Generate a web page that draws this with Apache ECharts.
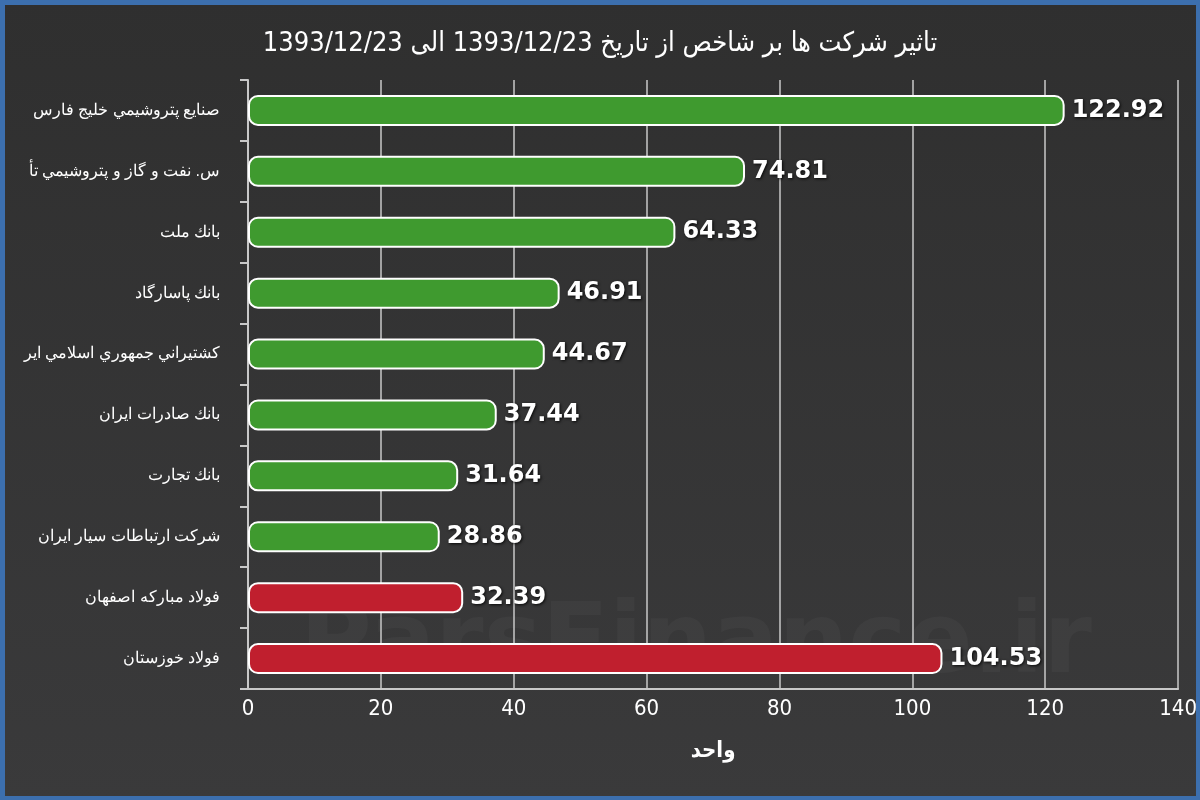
<!DOCTYPE html>
<html>
<head>
<meta charset="utf-8">
<script src="https://cdn.jsdelivr.net/npm/echarts@6/dist/echarts.min.js"></script>
<style>
html,body{margin:0;padding:0;background:#3c6fae;}
#c{width:1200px;height:800px;}
</style>
</head>
<body>
<div id="c"></div>
<script>
const categories = [
  "صنايع پتروشيمي خليج فارس",
  "س. نفت و گاز و پتروشيمي تأ",
  "بانك ملت",
  "بانك پاسارگاد",
  "كشتيراني جمهوري اسلامي اير",
  "بانك صادرات ايران",
  "بانك تجارت",
  "شركت ارتباطات سيار ايران",
  "فولاد مباركه اصفهان",
  "فولاد خوزستان"
];
const values = [122.92, 74.81, 64.33, 46.91, 44.67, 37.44, 31.64, 28.86, 32.39, 104.53];
const positive = [true, true, true, true, true, true, true, true, false, false];
const xTicks = [0, 20, 40, 60, 80, 100, 120, 140];
const titleText = "تاثير شركت ها بر شاخص از تاريخ 1393/12/23 الى 1393/12/23";
const xAxisName = "واحد";

const GREEN = "#3f9a2f", RED = "#c01f2e";
const chart = echarts.init(document.getElementById('c'), null, {renderer: 'canvas'});
chart.setOption({
  backgroundColor: {
    type: 'linear', x: 0, y: 0, x2: 0, y2: 1,
    colorStops: [{offset: 0, color: '#2f2f2f'}, {offset: 1, color: '#3a3a3b'}]
  },
  animation: false,
  graphic: [
    {type: 'text', left: 300, top: 598, silent: true, z: 0,
     style: {text: 'ParsFinance.ir', font: 'bold 98px "DejaVu Sans"', fill: 'rgba(255,255,255,0.03)'}},
    {type: 'rect', left: 0, top: 0, silent: true, z: 100,
     shape: {x: 2, y: 2, width: 1196, height: 796},
     style: {fill: 'none', stroke: '#3c6fae', lineWidth: 5}}
  ],
  title: {
    text: titleText, left: 595, top: 25, textAlign: 'center',
    textStyle: {color: '#ffffff', fontSize: 27, fontWeight: 'normal', fontFamily: '"Liberation Sans Narrow", "DejaVu Sans Condensed", sans-serif'}
  },
  grid: {left: 248, right: 20, top: 80, bottom: 111, containLabel: false},
  xAxis: {
    type: 'value', min: 0, max: 140, interval: 20,
    name: xAxisName, nameLocation: 'middle', nameGap: 51,
    nameTextStyle: {color: '#ffffff', fontSize: 22, fontWeight: 'bold', fontFamily: '"DejaVu Sans Condensed", "Liberation Sans Narrow", sans-serif'},
    axisLine: {show: true, lineStyle: {color: '#c8c8c8', width: 2}},
    axisTick: {show: false},
    splitLine: {show: true, lineStyle: {color: '#c8c8c8', width: 1.5}},
    axisLabel: {color: '#ffffff', fontSize: 22, margin: 9,
      fontFamily: '"Liberation Sans Narrow", "DejaVu Sans Condensed", sans-serif',
      formatter: v => xTicks.includes(v) ? String(v) : ''}
  },
  yAxis: {
    type: 'category', data: categories, inverse: true,
    axisLine: {show: true, lineStyle: {color: '#c8c8c8', width: 2}},
    axisTick: {show: true, length: 8, lineStyle: {color: '#c8c8c8', width: 2}},
    axisLabel: {color: '#ffffff', fontSize: 16, margin: 28, fontFamily: '"Liberation Sans", Arial, sans-serif'}
  },
  series: [{
    type: 'bar', barWidth: 31,
    data: values.map((v, i) => ({
      value: v,
      itemStyle: {color: positive[i] ? GREEN : RED}
    })),
    itemStyle: {borderColor: '#ffffff', borderWidth: 2, borderRadius: 9},
    label: {
      show: true, position: 'right', distance: 7,
      color: '#ffffff', fontSize: 24, fontWeight: 'bold',
      fontFamily: '"DejaVu Sans", Verdana, sans-serif',
      textShadowColor: 'rgba(0,0,0,0.85)', textShadowBlur: 3, textShadowOffsetX: 1, textShadowOffsetY: 1,
      formatter: p => p.value.toFixed(2)
    }
  }]
});
</script>
</body>
</html>
